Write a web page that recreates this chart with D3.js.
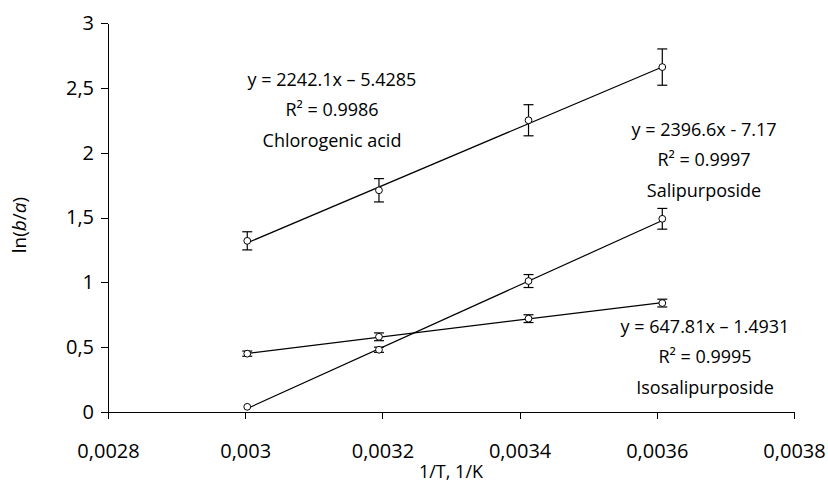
<!DOCTYPE html>
<html lang="en">
<head>
<meta charset="utf-8">
<title>ln(b/a) vs 1/T</title>
<style>
body { margin: 0; background: #fff; }
text { font-family: "Open Sans", sans-serif; fill: #000; }
.axis path, .axis line { stroke: #000; stroke-width: 1; shape-rendering: crispEdges; }
.axis text { font-size: 20px; }
</style>
</head>
<body>
<div id="chart"></div>
<script src="https://d3js.org/d3.v7.min.js"></script>
<script>
// 1/T values (1/K)
var invT = [0.003003, 0.003195, 0.003413, 0.003608];

var chlorogenic    = [1.32, 1.71, 2.25, 2.66];
var chlorogenicErr = [0.07, 0.09, 0.12, 0.14];
var salipurposide    = [0.04, 0.48, 1.01, 1.49];
var salipurposideErr = [0.00, 0.02, 0.05, 0.08];
var isosalipurposide    = [0.45, 0.58, 0.72, 0.84];
var isosalipurposideErr = [0.02, 0.03, 0.03, 0.03];

var seriesNames = ['Chlorogenic acid', 'Salipurposide', 'Isosalipurposide'];
var slopes      = [2242.1, 2396.6, 647.81];
var intercepts  = [-5.4285, -7.17, -1.4931];
var equations   = ['y = 2242.1x \u2013 5.4285', 'y = 2396.6x - 7.17', 'y = 647.81x \u2013 1.4931'];
var r2          = ['0.9986', '0.9997', '0.9995'];

var xTicks = [0.0028, 0.003, 0.0032, 0.0034, 0.0036, 0.0038];
var yTicks = [0, 0.5, 1, 1.5, 2, 2.5, 3];

var W = 828, H = 482;
var svg = d3.select('#chart').append('svg')
  .attr('width', W).attr('height', H);

var x = d3.scaleLinear().domain([0.0028, 0.0038]).range([108, 794]);
var y = d3.scaleLinear().domain([0, 3]).range([412, 23]);

function comma(d) { return String(+d.toFixed(4)).replace('.', ','); }

svg.append('g').attr('class', 'axis')
  .attr('transform', 'translate(0,' + y(0) + ')')
  .call(d3.axisBottom(x).tickValues(xTicks).tickFormat(comma).tickSize(7).tickSizeOuter(0).tickPadding(25));

svg.append('g').attr('class', 'axis')
  .attr('transform', 'translate(' + x(0.0028) + ',0)')
  .call(d3.axisLeft(y).tickValues(yTicks).tickFormat(comma).tickSize(7).tickSizeOuter(0).tickPadding(7));

// axis titles
svg.append('text')
  .attr('x', 451).attr('y', 478)
  .attr('text-anchor', 'middle').style('font-size', '18px')
  .text('1/T, 1/K');

var yl = svg.append('text')
  .attr('transform', 'translate(26,225) rotate(-90)')
  .attr('text-anchor', 'middle').style('font-size', '19px');
yl.append('tspan').text('ln(');
yl.append('tspan').style('font-style', 'italic').text('b');
yl.append('tspan').text('/');
yl.append('tspan').style('font-style', 'italic').text('a');
yl.append('tspan').text(')');

var series = [
  { vals: chlorogenic, err: chlorogenicErr },
  { vals: salipurposide, err: salipurposideErr },
  { vals: isosalipurposide, err: isosalipurposideErr }
];

var xMin = d3.min(invT), xMax = d3.max(invT);

series.forEach(function(s, i) {
  var g = svg.append('g');
  // trend line
  g.append('line')
    .attr('x1', x(xMin)).attr('y1', y(slopes[i] * xMin + intercepts[i]))
    .attr('x2', x(xMax)).attr('y2', y(slopes[i] * xMax + intercepts[i]))
    .attr('stroke', '#000').attr('stroke-width', 1.2);

  var pts = invT.map(function(t, j) { return { t: t, v: s.vals[j], e: s.err[j] }; });

  // error bars
  var eb = g.selectAll('.eb').data(pts.filter(function(d) { return d.e > 0; }))
    .enter().append('g');
  eb.append('line')
    .attr('x1', function(d) { return x(d.t); }).attr('x2', function(d) { return x(d.t); })
    .attr('y1', function(d) { return y(d.v - d.e); }).attr('y2', function(d) { return y(d.v + d.e); })
    .attr('stroke', '#000').attr('stroke-width', 1.2);
  [-1, 1].forEach(function(sg) {
    eb.append('line')
      .attr('x1', function(d) { return x(d.t) - 5; }).attr('x2', function(d) { return x(d.t) + 5; })
      .attr('y1', function(d) { return y(d.v + sg * d.e); }).attr('y2', function(d) { return y(d.v + sg * d.e); })
      .attr('stroke', '#000').attr('stroke-width', 1.2);
  });

  g.selectAll('circle').data(pts).enter().append('circle')
    .attr('cx', function(d) { return x(d.t); })
    .attr('cy', function(d) { return y(d.v); })
    .attr('r', 3.4)
    .attr('fill', '#fff').attr('stroke', '#000').attr('stroke-width', 1);
});

// equation labels
var labelPos = [[332, 86], [704, 136], [705, 333]];
labelPos.forEach(function(p, i) {
  var t = svg.append('text').attr('text-anchor', 'middle').style('font-size', '18px');
  t.append('tspan').attr('x', p[0]).attr('y', p[1]).text(equations[i]);
  t.append('tspan').attr('x', p[0]).attr('y', p[1] + 30).text('R\u00B2 = ' + r2[i]);
  t.append('tspan').attr('x', p[0]).attr('y', p[1] + 61).text(seriesNames[i]);
});
</script>
</body>
</html>
